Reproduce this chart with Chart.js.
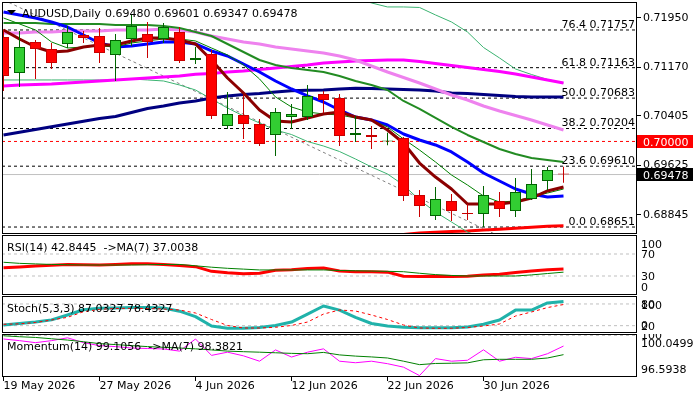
<!DOCTYPE html>
<html><head><meta charset="utf-8">
<script src="https://cdn.jsdelivr.net/npm/chart.js@4.4.1/dist/chart.umd.min.js"></script>
<style>
html,body{margin:0;padding:0;background:#fff;}
#wrap{position:relative;width:700px;height:400px;overflow:hidden;background:#fff;}
canvas{position:absolute;left:0;}
</style></head><body>
<div id="wrap">
<canvas id="cMain" width="700" height="235" style="top:0px"></canvas>
<canvas id="cRsi" width="700" height="60" style="top:235px"></canvas>
<canvas id="cSto" width="700" height="37" style="top:296px"></canvas>
<canvas id="cMom" width="700" height="66" style="top:334px"></canvas>
</div>
<script>
// ---------------- DATA ----------------
const symbolTitle = 'AUDUSD,Daily';
const tickIdx = [0, 6, 12, 18, 24, 30];
const tickLabels = ['19 May 2026', '27 May 2026', '4 Jun 2026', '12 Jun 2026', '22 Jun 2026', '30 Jun 2026'];

const open  = [0.71647,0.71079,0.71568,0.71457,0.71536,0.71678,0.71662,0.71363,0.71615,0.71694,0.71615,0.71725,0.71284,0.71379,0.70243,0.70417,0.70275,0.70102,0.70385,0.70385,0.70748,0.70685,0.70102,0.70102,0.70000,0.70054,0.69156,0.68825,0.69061,0.68872,0.68856,0.69061,0.68903,0.69093,0.69376,0.69480];
const high  = [0.71760,0.71741,0.71599,0.71552,0.71820,0.71741,0.71789,0.71694,0.71994,0.71883,0.71867,0.71804,0.71489,0.71442,0.70780,0.70732,0.70354,0.70527,0.70590,0.70890,0.70795,0.70748,0.70401,0.70243,0.70138,0.70070,0.69234,0.69282,0.69171,0.69014,0.69298,0.69203,0.69424,0.69566,0.69597,0.69601];
const low   = [0.70795,0.70858,0.70984,0.71142,0.71473,0.71552,0.71237,0.70953,0.71505,0.71316,0.71552,0.71237,0.71221,0.70354,0.70196,0.70039,0.69928,0.69771,0.70196,0.70338,0.70448,0.69928,0.69991,0.69881,0.69938,0.69061,0.68809,0.68761,0.68746,0.68761,0.68651,0.68809,0.68809,0.69077,0.69234,0.69347];
const close = [0.71032,0.71489,0.71457,0.71237,0.71725,0.71631,0.71394,0.71599,0.71820,0.71568,0.71804,0.71268,0.71316,0.70401,0.70433,0.70275,0.69960,0.70464,0.70433,0.70716,0.70653,0.70086,0.70133,0.70070,0.70007,0.69140,0.68982,0.69093,0.68903,0.68856,0.69156,0.68935,0.69203,0.69329,0.69550,0.69478];

const maBlue    = [0.72041,0.71994,0.71946,0.71883,0.71804,0.71678,0.71552,0.71489,0.71505,0.71536,0.71568,0.71568,0.71536,0.71426,0.71347,0.71221,0.71095,0.70953,0.70827,0.70717,0.70622,0.70496,0.70385,0.70338,0.70259,0.70117,0.70023,0.69944,0.69834,0.69676,0.69503,0.69376,0.69250,0.69171,0.69124,0.69140];
const maMaroon  = [0.71757,0.71615,0.71489,0.71410,0.71426,0.71489,0.71521,0.71521,0.71584,0.71631,0.71631,0.71599,0.71536,0.71284,0.71000,0.70764,0.70496,0.70322,0.70307,0.70370,0.70433,0.70464,0.70385,0.70338,0.70180,0.69976,0.69660,0.69439,0.69250,0.69014,0.69014,0.69014,0.69045,0.69108,0.69219,0.69282];
const maThinGreen = [0.71946,0.71852,0.71757,0.71568,0.71473,0.71489,0.71505,0.71489,0.71552,0.71584,0.71615,0.71615,0.71584,0.71473,0.71363,0.71205,0.70985,0.70701,0.70543,0.70464,0.70433,0.70417,0.70370,0.70338,0.70228,0.70039,0.69865,0.69676,0.69471,0.69313,0.69140,0.69045,0.69061,0.69124,0.69187,0.69250];
const maGreen   = [0.71867,0.71867,0.71867,0.71852,0.71852,0.71852,0.71852,0.71836,0.71836,0.71836,0.71820,0.71789,0.71726,0.71662,0.71536,0.71410,0.71284,0.71205,0.71158,0.71126,0.71095,0.71032,0.70953,0.70890,0.70811,0.70638,0.70512,0.70370,0.70228,0.70102,0.69991,0.69881,0.69802,0.69739,0.69707,0.69676];
const maViolet  = [0.71710,0.71710,0.71726,0.71726,0.71741,0.71741,0.71741,0.71757,0.71757,0.71757,0.71773,0.71757,0.71726,0.71662,0.71615,0.71568,0.71536,0.71489,0.71458,0.71426,0.71394,0.71347,0.71284,0.71189,0.71095,0.71008,0.70921,0.70827,0.70732,0.70653,0.70559,0.70480,0.70409,0.70338,0.70259,0.70180];
const maMagenta = [0.70874,0.70890,0.70898,0.70906,0.70921,0.70937,0.70953,0.70969,0.70985,0.71000,0.71016,0.71032,0.71059,0.71071,0.71095,0.71111,0.71134,0.71158,0.71182,0.71205,0.71237,0.71253,0.71268,0.71276,0.71284,0.71284,0.71260,0.71229,0.71197,0.71166,0.71134,0.71103,0.71063,0.71016,0.70969,0.70921];
const maNavy    = [0.70102,0.70144,0.70188,0.70231,0.70275,0.70318,0.70362,0.70393,0.70456,0.70519,0.70559,0.70606,0.70638,0.70685,0.70717,0.70740,0.70756,0.70780,0.70800,0.70806,0.70811,0.70827,0.70838,0.70835,0.70827,0.70819,0.70811,0.70795,0.70764,0.70756,0.70740,0.70724,0.70709,0.70701,0.70701,0.70701];
const bandUpper = [null,null,null,null,null,null,null,null,null,null,null,null,null,null,null,null,null,null,null,null,null,0.72356,0.72262,0.72183,0.72120,0.72120,0.72112,0.71994,0.71883,0.71725,0.71481,0.71316,0.71142,0.71055,0.70977,0.70921];
const bandLower = [0.70969,0.70969,0.70969,0.70969,0.70969,0.70969,0.70969,0.70969,0.70985,0.70969,0.70953,0.70890,0.70811,0.70669,0.70527,0.70401,0.70291,0.70180,0.70109,0.69999,0.69928,0.69841,0.69723,0.69597,0.69487,0.69313,0.69077,0.68888,0.68730,0.68572,0.68478,0.68415,null,null,null,null];
const redLow    = [null,null,null,null,null,null,null,null,null,null,null,null,null,null,null,null,null,null,null,null,null,null,null,null,0.68509,0.68533,0.68557,0.68568,0.68580,0.68588,0.68604,0.68615,0.68631,0.68646,0.68662,0.68672];
const trendX = [0, 31];
const trendY = [0.72232, 0.68505];

const fibPct   = ['76.4', '61.8', '50.0', '38.2', '23.6', '0.0'];
const fibLevel = [0.71757, 0.71163, 0.70683, 0.70204, 0.69610, 0.68651];
const roundLevel = 0.70000;
const bidPrice = 0.69478;
const priceTicks = [0.71950, 0.71170, 0.70405, 0.69625, 0.68845];

const rsi    = [45,46.5,48,49.5,51,50.5,50,51,52.4,52.4,51,49,47,38.5,36,34.2,35,40.5,41.5,43.5,44.5,39,37.8,37.8,37,29.5,29,29.5,29,29.5,32,33,36.4,39,41.5,42.8445];
const rsiMa  = [55,53,52,51,50.5,50,50,50,50,50.5,51,51,48.5,46,44,42.5,41,41,41,41,41,40,39.5,39,38.5,37.8,35,32.5,31,30,30,30,30,32,34.5,37.0038];
const rsiLevels = [70, 30];
const rsiAxis = [100, 70, 30, 0];

const stochK = [22,26,30,36,49.5,64,68,69,70,70,69,60,45,19,13,13,15,20.5,30,52,74.4,63,43,26,19,15.5,14.4,14.4,14.4,16.3,23.8,35.7,63,63,82.7,87.0327];
const stochD = [23.8,25,28.7,35.7,43,58.6,65,67.5,68,67.5,66,63.3,55,37,20.5,13.5,13.5,15.5,20.5,30,52,63.3,60.5,49.5,37,21.8,13.5,12.7,12.7,15,19,24.6,46.7,57.8,70,78.4327];
const stochLevels = [80, 20];
const stochAxis = [100, 80, 20, 0];

const mom   = [99.70,99.56,99.39,99.56,99.80,99.39,99.14,99.06,98.94,98.90,98.86,98.68,99.70,98.32,98.59,98.28,97.83,98.78,98.18,98.59,98.87,97.83,97.70,97.83,97.62,97.33,96.62,98.05,97.83,97.91,98.79,97.83,98.16,98.05,98.46,99.1056];
const momMa = [99.97,99.89,99.83,99.72,99.61,99.47,99.31,99.23,99.14,99.06,99.00,98.94,98.87,98.78,98.68,98.63,98.59,98.54,98.49,98.46,98.57,98.36,98.26,98.19,98.10,97.83,97.54,97.64,97.66,97.69,97.95,97.99,97.99,97.99,98.10,98.3821];
const momLevels = [100];
const momAxisMax = 100.0499;
const momAxisMin = 96.5938;

// ---------------- SETUP ----------------
Chart.defaults.font.family = '"DejaVu Sans", Verdana, sans-serif';
Chart.defaults.font.size = 11;
Chart.defaults.color = '#000';

const X_MIN = -0.09375, X_MAX = 39.59375;
const FONT = '11px "DejaVu Sans"';
const last = a => a[a.length - 1];
const series = arr => arr.map((v, i) => ({x: i, y: v}));
const hline = v => [{x: X_MIN, y: v}, {x: X_MAX, y: v}];
function lineDs(data, color, width, order, dash) {
  return {type: 'line', data, borderColor: color, borderWidth: width, pointRadius: 0, pointHoverRadius: 0,
    fill: false, tension: 0, order, borderDash: dash || [], clip: 0, spanGaps: false,
    borderCapStyle: 'butt', borderJoinStyle: 'round'};
}
const baseOpts = {
  responsive: false, animation: false, devicePixelRatio: 1, events: [],
  plugins: {legend: {display: false}, tooltip: {enabled: false}}
};
const xHidden = {type: 'linear', min: X_MIN, max: X_MAX, display: false, offset: false};

// ---------------- MAIN CHART ----------------
const up = close.map((c, i) => c >= open[i]);
const mainDatasets = [
  {type: 'bar', data: open.map((o, i) => ({x: i, y: [o, close[i]]})),
   backgroundColor: up.map(u => u ? '#32CD32' : '#FF0000'),
   borderColor: up.map(u => u ? '#006400' : '#C80000'),
   borderWidth: 1, borderSkipped: false, barThickness: 11, grouped: false, minBarLength: 1,
   inflateAmount: 0, order: 0, clip: 0},
  {type: 'bar', data: low.map((l, i) => ({x: i, y: [l, high[i]]})),
   backgroundColor: up.map(u => u ? '#006400' : '#C80000'),
   borderWidth: 0, barThickness: 1, grouped: false, inflateAmount: 0, order: 1, clip: 0},
  lineDs(series(maMaroon), '#8B0000', 3, 2),
  lineDs(series(maThinGreen), '#008000', 1, 3),
  lineDs(series(maBlue), '#0000FF', 3, 4),
  lineDs(series(maGreen), '#228B22', 2, 5),
  lineDs(series(maViolet), '#EE82EE', 3, 6),
  lineDs(series(maMagenta), '#FF00FF', 3, 7),
  lineDs(series(maNavy), '#000080', 3, 8),
  lineDs(series(bandUpper), '#3CB371', 1, 9),
  lineDs(series(bandLower), '#3CB371', 1, 9),
  lineDs(series(redLow), '#FF0000', 3, 9),
  lineDs(trendX.map((x, k) => ({x, y: trendY[k]})), '#808080', 1, 10, [3, 3]),
  lineDs(hline(bidPrice), '#C0C0C0', 1, 11),
  lineDs(hline(roundLevel), '#FF0000', 1, 11, [3, 3])
];
fibLevel.forEach(v => mainDatasets.push(lineDs(hline(v), '#000000', 1, 11, [3, 3])));

const mainDeco = {
  id: 'mainDeco',
  afterDatasetsDraw(chart) {
    const {ctx, chartArea: a} = chart; const y = chart.scales.y;
    ctx.save();
    ctx.font = FONT; ctx.fillStyle = '#000'; ctx.textBaseline = 'alphabetic';
    ctx.textAlign = 'right';
    fibLevel.forEach((v, k) => ctx.fillText(fibPct[k] + ' ' + v.toFixed(5), a.right - 2, Math.round(y.getPixelForValue(v)) - 2));
    ctx.textAlign = 'left';
    ctx.fillText(symbolTitle, 22, 17);
    ctx.fillText([open, high, low, close].map(s => last(s).toFixed(5)).join(' '), 105, 17);
    ctx.beginPath(); ctx.moveTo(7, 10); ctx.lineTo(16, 10); ctx.lineTo(11.5, 14.5); ctx.closePath(); ctx.fill();
    ctx.strokeStyle = '#000'; ctx.lineWidth = 1;
    ctx.strokeRect(a.left + 0.5, a.top + 0.5, a.width - 1, a.height - 1);
    ctx.restore();
  },
  afterDraw(chart) {
    const {ctx, chartArea: a} = chart; const y = chart.scales.y;
    ctx.save(); ctx.font = FONT; ctx.textAlign = 'left'; ctx.textBaseline = 'alphabetic';
    [[roundLevel, '#FF0000'], [bidPrice, '#000000']].forEach(([v, bg]) => {
      const py = y.getPixelForValue(v);
      const top = Math.round(py - 6.5);
      ctx.fillStyle = bg; ctx.fillRect(a.right, top, 56, 13);
      ctx.fillStyle = '#FFFFFF'; ctx.fillText(v.toFixed(5), a.right + 6, top + 10.5);
    });
    ctx.restore();
  }
};

new Chart(document.getElementById('cMain'), {
  type: 'bar',
  data: {datasets: mainDatasets},
  options: Object.assign({}, baseOpts, {
    layout: {padding: {left: 2, top: 2, bottom: 1, right: 0}},
    scales: {
      x: xHidden,
      y: {type: 'linear', position: 'right', min: 0.68541, max: 0.72198,
        afterBuildTicks: s => { s.ticks = priceTicks.map(v => ({value: v})); },
        afterFit: s => { s.width = 63; s.paddingTop = 0; s.paddingBottom = 0; },
        ticks: {callback: v => Number(v).toFixed(5), color: '#000', padding: 2, autoSkip: false, font: {size: 11}},
        grid: {drawOnChartArea: false, drawTicks: true, tickLength: 4, color: '#000'},
        border: {display: false}}
    }
  }),
  plugins: [mainDeco]
});

// ---------------- INDICATOR PANES ----------------
function panePlugin(titleText, axisLabels) {
  return {
    id: 'pane',
    afterDatasetsDraw(chart) {
      const {ctx, chartArea: a} = chart; const y = chart.scales.y;
      ctx.save();
      ctx.font = FONT; ctx.fillStyle = '#000'; ctx.textAlign = 'left'; ctx.textBaseline = 'alphabetic';
      ctx.fillText(titleText, 7, a.top + 16);
      ctx.beginPath(); ctx.rect(a.right, a.top, 63, a.height); ctx.clip();
      axisLabels.forEach(l => {
        let py = y.getPixelForValue(l.v);
        if (l.clamp) py = Math.min(Math.max(py, a.top + 9), a.bottom - 8);
        ctx.fillText(l.t, 641, Math.round(py) + 4);
      });
      ctx.restore();
      ctx.save(); ctx.strokeStyle = '#000'; ctx.lineWidth = 1;
      ctx.strokeRect(a.left + 0.5, a.top + 0.5, a.width - 1, a.height - 1);
      ctx.restore();
    }
  };
}
const paneLayout = {padding: {left: 2, right: 63, top: 0, bottom: 0}};

// RSI
new Chart(document.getElementById('cRsi'), {
  type: 'line',
  data: {datasets: [
    lineDs(series(rsi), '#FF0000', 3, 1),
    lineDs(series(rsiMa), '#008000', 1, 0),
    ...rsiLevels.map(v => lineDs(hline(v), '#C0C0C0', 1, 5, [3, 3]))
  ]},
  options: Object.assign({}, baseOpts, {layout: paneLayout,
    scales: {x: xHidden, y: {type: 'linear', min: -4.55, max: 104.55, display: false}}}),
  plugins: [panePlugin('RSI(14) ' + last(rsi).toFixed(4) + '  ->MA(7) ' + last(rsiMa).toFixed(4),
    rsiAxis.map((v, k) => ({v, t: String(v), clamp: k === 0 || k === rsiAxis.length - 1})))]
});

// Stochastic
new Chart(document.getElementById('cSto'), {
  type: 'line',
  data: {datasets: [
    lineDs(series(stochK), '#20B2AA', 3, 1),
    lineDs(series(stochD), '#FF0000', 1, 0, [3, 3]),
    ...stochLevels.map(v => lineDs(hline(v), '#C0C0C0', 1, 5, [3, 3]))
  ]},
  options: Object.assign({}, baseOpts, {layout: paneLayout,
    scales: {x: xHidden, y: {type: 'linear', min: -0.3, max: 102, display: false}}}),
  plugins: [panePlugin('Stoch(5,3,3) ' + last(stochK).toFixed(4) + ' ' + last(stochD).toFixed(4),
    stochAxis.map((v, k) => ({v, t: String(v), clamp: k === 0 || k === stochAxis.length - 1})))]
});

// Momentum
new Chart(document.getElementById('cMom'), {
  type: 'line',
  data: {datasets: [
    lineDs(series(mom), '#FF00FF', 1, 1),
    lineDs(series(momMa), '#008000', 1, 0),
    ...momLevels.map(v => lineDs(hline(v), '#C0C0C0', 1, 5, [3, 3]))
  ]},
  options: Object.assign({}, baseOpts, {layout: paneLayout,
    scales: {
      x: {type: 'linear', min: X_MIN, max: X_MAX, offset: false, position: 'bottom',
        afterBuildTicks: s => { s.ticks = tickIdx.map(v => ({value: v})); },
        afterFit: s => { s.height = 23; s.paddingLeft = 0; s.paddingRight = 0; },
        ticks: {callback: (v, i) => tickLabels[i], align: 'start', padding: 0, autoSkip: false,
          maxRotation: 0, minRotation: 0, color: '#000', font: {size: 11, lineHeight: 1}},
        grid: {drawOnChartArea: false, drawTicks: true, tickLength: 4, color: '#000'},
        border: {display: false}},
      y: {type: 'linear', min: 96.5, max: 100.12, display: false}
    }}),
  plugins: [panePlugin('Momentum(14) ' + last(mom).toFixed(4) + '  ->MA(7) ' + last(momMa).toFixed(4),
    [{v: momAxisMax, t: momAxisMax.toFixed(4), clamp: true},
     ...momLevels.map(v => ({v, t: String(v), clamp: false})),
     {v: momAxisMin, t: momAxisMin.toFixed(4), clamp: true}])]
});
</script>
</body></html>
